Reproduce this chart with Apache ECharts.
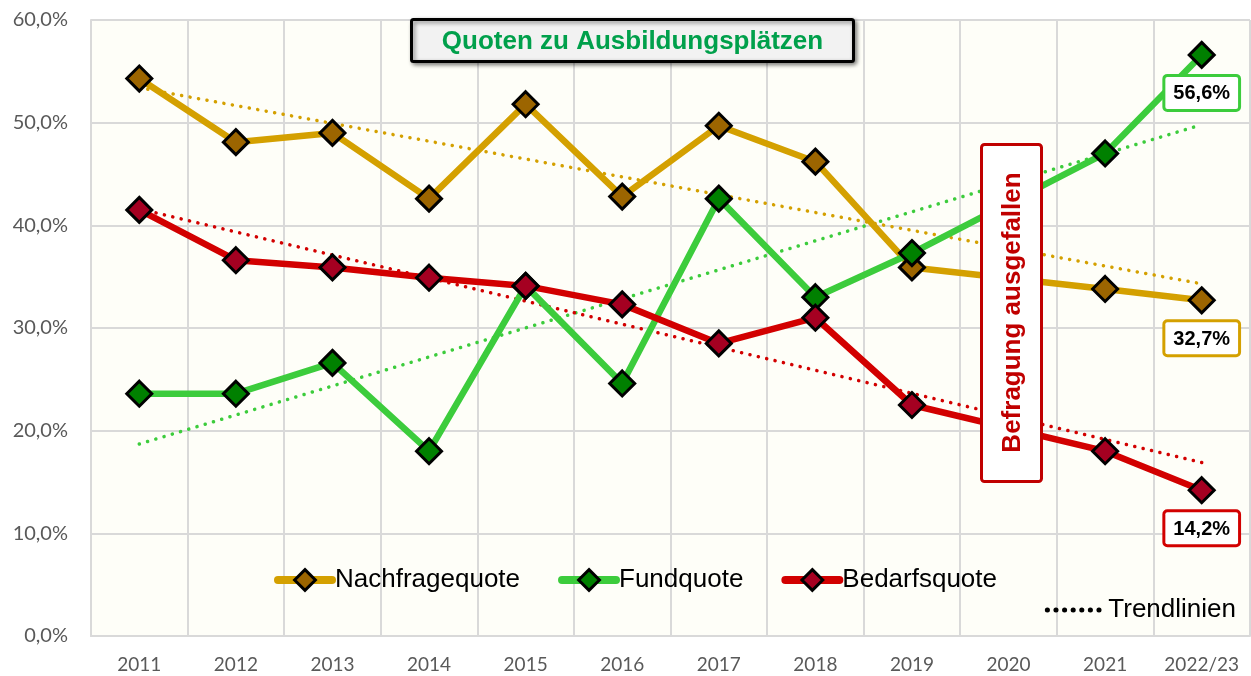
<!DOCTYPE html>
<html>
<head>
<meta charset="utf-8">
<script src="https://cdn.jsdelivr.net/npm/echarts@6/dist/echarts.min.js"></script>
<style>
	html, body { margin: 0; padding: 0; background: #fff; }
	#chart { width: 1251px; height: 676px; }
</style>
</head>
<body>
<div id="chart"></div>
<script>
// Kategorien (2020: Befragung ausgefallen)
var years = ['2011', '2012', '2013', '2014', '2015', '2016', '2017', '2018', '2019', '2020', '2021', '2022/23'];
var yTicks = [0, 10, 20, 30, 40, 50, 60];

// Quoten in %
var nachfrage = [54.3, 48.1, 49.0, 42.6, 51.8, 42.8, 49.7, 46.2, 35.9, null, 33.8, 32.7];
var fund      = [23.6, 23.6, 26.6, 18.0, 34.1, 24.6, 42.6, 33.0, 37.3, null, 47.0, 56.6];
var bedarf    = [41.5, 36.6, 35.9, 34.9, 34.1, 32.3, 28.5, 31.0, 22.5, null, 18.0, 14.2];

// Trendlinien: Anfangs- und Endwert
var trendNachfrage = [53.4, null, null, null, null, null, null, null, null, null, null, 34.3];
var trendFund      = [18.7, null, null, null, null, null, null, null, null, null, null, 49.8];
var trendBedarf    = [41.6, null, null, null, null, null, null, null, null, null, null, 16.9];

var colNachfrage = '#D4A000', colFund = '#3CCC3C', colBedarf = '#D20000';
var dotted = [0.1, 8.5];

function fmt(v){
	return v.toFixed(1).replace('.', ',') + '%';
}

function mainSeries(name, data, lineColor, fillColor){
	var last = data.length - 1;
	return {
		name: name,
		type: 'line',
		data: data.map(function(v, i){
			if (i !== last) return v;
			return {
				value: v,
				label: {
					show: true,
					position: 'bottom',
					distance: 8,
					formatter: function(p){ return fmt(p.value); },
					color: '#000',
					fontFamily: 'Liberation Sans, Arial',
					fontWeight: 'bold',
					fontSize: 20,
					backgroundColor: '#fff',
					borderColor: lineColor,
					borderWidth: 3,
					borderRadius: 2,
					padding: [7, 8, 5, 8]
				}
			};
		}),
		connectNulls: true,
		symbol: 'diamond',
		symbolSize: 25,
		z: 3,
		lineStyle: { color: lineColor, width: 6.5 },
		itemStyle: { color: fillColor, borderColor: '#000', borderWidth: 3 }
	};
}

function trendSeries(name, data, color){
	return {
		name: name,
		type: 'line',
		data: data,
		connectNulls: true,
		symbol: 'none',
		silent: true,
		z: 2,
		lineStyle: { color: color, width: 3.5, type: dotted, cap: 'round' }
	};
}

var chart = echarts.init(document.getElementById('chart'));
chart.setOption({
	animation: false,
	backgroundColor: '#fff',
	grid: {
		left: 91, right: 1, top: 20, bottom: 40,
		show: true, backgroundColor: '#FEFEF8', borderWidth: 0
	},
	legend: [{
		data: ['Nachfragequote', 'Fundquote', 'Bedarfsquote'],
		left: 269, top: 562,
		itemWidth: 54, itemHeight: 26, itemGap: 38,
		lineStyle: { width: 8, cap: 'round' },
		itemStyle: { borderWidth: 3 },
		textStyle: { fontFamily: 'Liberation Sans, Arial', fontSize: 26, color: '#000', padding: [0, 0, 0, -2] }
	}, {
		data: [{
			name: 'Trendlinien',
			itemStyle: { opacity: 0 },
			lineStyle: { color: '#000', width: 5, type: [0.1, 8.5], cap: 'round' }
		}],
		right: 10, top: 592,
		itemWidth: 52, itemHeight: 14,
		textStyle: { fontFamily: 'Liberation Sans, Arial', fontSize: 26, color: '#000', padding: [0, 0, 0, 4] }
	}],
	xAxis: {
		type: 'category',
		data: years,
		boundaryGap: true,
		axisLine: { lineStyle: { color: '#D9D9D9', width: 2 } },
		axisTick: { show: false },
		splitLine: { show: true, interval: 0, lineStyle: { color: '#D9D9D9', width: 2 } },
		axisLabel: { interval: 0, color: '#595959', fontFamily: 'Lato, Open Sans', fontSize: 19, margin: 19 }
	},
	yAxis: {
		type: 'value',
		min: yTicks[0], max: yTicks[yTicks.length - 1], interval: 10,
		axisLine: { show: true, lineStyle: { color: '#D9D9D9', width: 2 } },
		splitLine: { lineStyle: { color: '#D9D9D9', width: 2 } },
		axisLabel: {
			color: '#595959', fontFamily: 'Lato, Open Sans', fontSize: 20, margin: 23,
			formatter: function(v){ return fmt(v); }
		}
	},
	series: [
		trendSeries('Trend Nachfrage', trendNachfrage, colNachfrage),
		trendSeries('Trend Fund', trendFund, colFund),
		trendSeries('Trend Bedarf', trendBedarf, colBedarf),
		mainSeries('Nachfragequote', nachfrage, colNachfrage, '#9C6500'),
		mainSeries('Fundquote', fund, colFund, '#008000'),
		mainSeries('Bedarfsquote', bedarf, colBedarf, '#A50021'),
		{
			name: 'Trendlinien', type: 'line', data: [],
			symbol: 'none',
			lineStyle: { color: '#000', width: 5, type: dotted, cap: 'round' },
			itemStyle: { color: '#000' }
		}
	],
	graphic: [{
		type: 'group',
		left: 410, top: 18,
		z: 100,
		children: [{
			type: 'rect',
			z: 100,
			shape: { x: 0, y: 0, width: 442, height: 42, r: 2 },
			style: {
				fill: '#F2F2F2', stroke: '#000', lineWidth: 3,
				shadowBlur: 4, shadowOffsetX: 2, shadowOffsetY: 2, shadowColor: 'rgba(0,0,0,0.45)'
			}
		}, {
			type: 'text',
			z: 101,
			x: 221, y: 22,
			style: {
				text: 'Quoten zu Ausbildungsplätzen',
				fill: '#00A04B',
				font: 'bold 26px "Liberation Sans", Arial',
				align: 'center', verticalAlign: 'middle'
			}
		}]
	}, {
		type: 'group',
		left: 980, top: 143,
		z: 100,
		children: [{
			type: 'rect',
			z: 100,
			shape: { x: 0, y: 0, width: 60, height: 337, r: 3 },
			style: { fill: '#fff', stroke: '#C00000', lineWidth: 3 }
		}, {
			type: 'text',
			z: 101,
			x: 31, y: 168,
			rotation: Math.PI / 2,
			style: {
				text: 'Befragung ausgefallen',
				fill: '#C00000',
				font: 'bold 26px "Liberation Sans", Arial',
				align: 'center', verticalAlign: 'middle'
			}
		}]
	}]
});
</script>
</body>
</html>
